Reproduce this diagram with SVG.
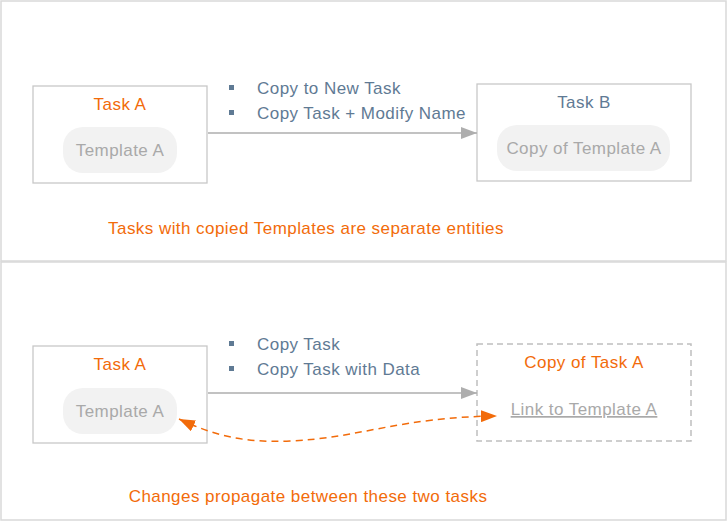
<svg xmlns="http://www.w3.org/2000/svg" width="727" height="522" viewBox="0 0 727 522">
<style>
text{font-family:"Liberation Sans",Arial,sans-serif;font-size:17px;letter-spacing:0.45px}
.panel{fill:#fff;stroke:#d9d9d9;stroke-width:1.5}
.box{fill:#fff;stroke:#c8c8c8;stroke-width:1.3}
.dbox{fill:#fff;stroke:#bfbfbf;stroke-width:1.5;stroke-dasharray:6 4}
.pill{fill:#f2f2f2}
.or{fill:#f26b0a}
.sl{fill:#5f7a94}
.gr{fill:#a9a9a9}
.bul{fill:#5f7a94}
.conn{stroke:#aeaeae;stroke-width:1.3;fill:none}
.dash{stroke:#f26b0a;stroke-width:1.5;fill:none;stroke-dasharray:7 5}
</style>
<defs>
<marker id="ag" markerWidth="16" markerHeight="12" refX="16" refY="6" orient="auto" markerUnits="userSpaceOnUse">
<path d="M0,0 L16,6 L0,12 Z" fill="#aeaeae"/>
</marker>
<marker id="ao" markerWidth="16" markerHeight="12" refX="16" refY="6" orient="auto-start-reverse" markerUnits="userSpaceOnUse">
<path d="M0,0 L16,6 L0,12 Z" fill="#f26b0a"/>
</marker>
</defs>
<rect class="panel" x="1" y="1" width="725" height="260"/>
<rect class="panel" x="1" y="262" width="725" height="258"/>

<g id="top-taskA">
<rect class="box" x="33" y="86" width="174" height="97"/>
<text class="or" x="120" y="110" text-anchor="middle">Task A</text>
<rect class="pill" x="63" y="127" width="114" height="46" rx="20"/>
<text class="gr" x="120" y="156" text-anchor="middle">Template A</text>
</g>
<g id="top-taskB">
<rect class="box" x="477" y="84" width="214" height="97"/>
<text class="sl" x="584" y="108" text-anchor="middle">Task B</text>
<rect class="pill" x="497" y="125" width="173" height="46" rx="20"/>
<text class="gr" x="584" y="154" text-anchor="middle">Copy of Template A</text>
</g>
<g id="top-labels">
<rect class="bul" x="229" y="85" width="5" height="5"/>
<rect class="bul" x="229" y="110" width="5" height="5"/>
<text class="sl" x="257" y="94">Copy to New Task</text>
<text class="sl" x="257" y="119">Copy Task + Modify Name</text>
<text class="or" x="306" y="234" text-anchor="middle">Tasks with copied Templates are separate entities</text>
</g>

<g id="bot-taskA">
<rect class="box" x="33" y="346" width="174" height="97"/>
<text class="or" x="120" y="370" text-anchor="middle">Task A</text>
<rect class="pill" x="63" y="388" width="114" height="46" rx="20"/>
<text class="gr" x="120" y="417" text-anchor="middle">Template A</text>
</g>
<g id="bot-copy">
<rect class="dbox" x="477" y="344" width="214" height="97"/>
<text class="or" x="584" y="368" text-anchor="middle">Copy of Task A</text>
<text class="gr" x="584" y="415" text-anchor="middle" text-decoration="underline">Link to Template A</text>
</g>
<g id="bot-labels">
<rect class="bul" x="229" y="341" width="5" height="5"/>
<rect class="bul" x="229" y="366" width="5" height="5"/>
<text class="sl" x="257" y="350">Copy Task</text>
<text class="sl" x="257" y="375">Copy Task with Data</text>
<text class="or" x="308" y="502" text-anchor="middle">Changes propagate between these two tasks</text>
</g>

<g id="connectors">
<line class="conn" x1="208" y1="133" x2="477" y2="133" marker-end="url(#ag)"/>
<line class="conn" x1="208" y1="393" x2="477" y2="393" marker-end="url(#ag)"/>
<path class="dash" d="M179,419 C215,436 245,443 290,441 C360,438 400,417 497,416" marker-start="url(#ao)" marker-end="url(#ao)"/>
</g>
</svg>
